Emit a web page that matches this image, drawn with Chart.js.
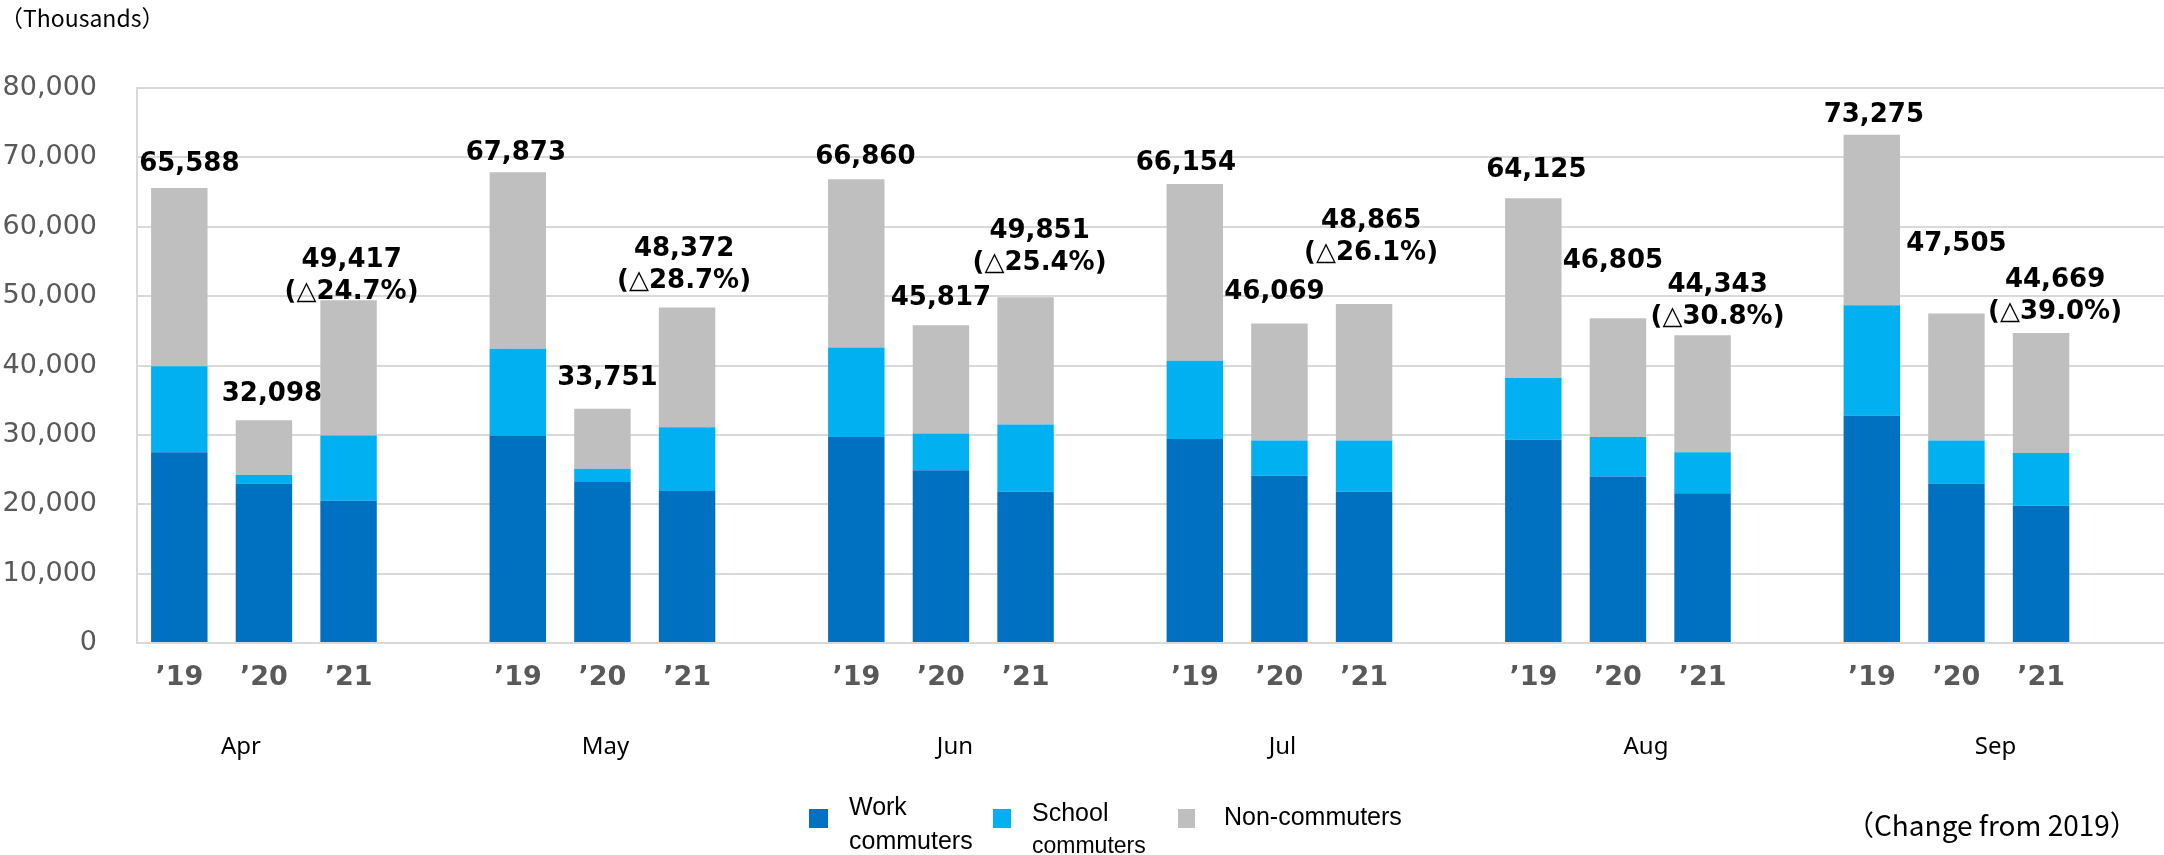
<!DOCTYPE html>
<html>
<head>
<meta charset="utf-8">
<script src="https://cdn.jsdelivr.net/npm/chart.js@4.4.0/dist/chart.umd.min.js"></script>
<style>
  html, body { margin: 0; padding: 0; background: #fff; overflow: hidden; }
  #wrap { position: relative; width: 2164px; height: 855px; overflow: hidden; }
  canvas { display: block; }
</style>
</head>
<body>
<div id="wrap"><canvas id="c" width="2168" height="855"></canvas></div>
<script>
// ---- data (thousands of passengers) ----
const months = ['Apr', 'May', 'Jun', 'Jul', 'Aug', 'Sep'];
const yearTicks = ['\u201919', '\u201920', '\u201921'];
// order per month: '19, '20, '21
const workCommuters   = [27500, 23000, 20500,  29900, 23200, 21900,  29700, 24900, 21800,  29400, 24100, 21800,  29300, 24000, 21600,  32800, 23000, 19800];
const schoolCommuters = [12400,  1200,  9400,  12500,  1900,  9200,  12900,  5300,  9700,  11300,  5100,  7400,   8900,  5700,  5900,  15900,  6200,  7600];
const nonCommuters    = [25688,  7898, 19517,  25473,  8651, 17272,  24260, 15617, 18351,  25454, 16869, 19665,  25925, 17105, 16843,  24575, 18305, 17269];
const totals          = [65588, 32098, 49417,  67873, 33751, 48372,  66860, 45817, 49851,  66154, 46069, 48865,  64125, 46805, 44343,  73275, 47505, 44669];
const changeFrom2019  = ['\u25B324.7%', '\u25B328.7%', '\u25B325.4%', '\u25B326.1%', '\u25B330.8%', '\u25B339.0%'];
const yTicks = [0, 10000, 20000, 30000, 40000, 50000, 60000, 70000, 80000];

// ---- layout tweaks (label placement relative to bar centre / bar top) ----
const labelOffsets = [
  [10, 24], [8, 26], [3, 8],
  [-2, 19], [5, 31], [-3, 26],
  [9, 22], [0, 27], [14, 34],
  [-9, 21], [-5, 31], [7, 51],
  [3, 28], [-5, 57], [15, 18],
  [2, 19], [0, 69], [14, 21]
];
const monthOffsets = [-23, 3, 14, 3, 28, 39];

// ---- build slot-based arrays (3 bars + 1 gap per month) ----
const slotLabels = [];
months.forEach(() => { yearTicks.forEach(t => slotLabels.push(t)); slotLabels.push(''); });
function toSlots(arr) {
  const out = [];
  months.forEach((_, m) => { for (let j = 0; j < 3; j++) out.push(arr[m * 3 + j]); out.push(null); });
  return out;
}
const fmt = v => v.toLocaleString('en-US');

const annotations = {
  id: 'annotations',
  afterDatasetsDraw(chart) {
    const { ctx, scales: { x, y } } = chart;
    ctx.save();
    // data labels
    ctx.fillStyle = '#000';
    ctx.font = 'bold 26px "DejaVu Sans"';
    ctx.textAlign = 'center';
    ctx.textBaseline = 'middle';
    totals.forEach((t, i) => {
      const m = Math.floor(i / 3), j = i % 3;
      const px = x.getPixelForValue(m * 4 + j) + labelOffsets[i][0];
      const top = y.getPixelForValue(t);
      const lines = j === 2 ? [fmt(t), '(' + changeFrom2019[m] + ')'] : [fmt(t)];
      const base = top - labelOffsets[i][1];
      lines.forEach((s, k) => ctx.fillText(s, px, base - (lines.length - 1 - k) * 32));
    });
    // month labels
    ctx.font = '24px "Noto Sans"';
    months.forEach((mo, m) => {
      ctx.fillText(mo, x.getPixelForValue(m * 4 + 1) + monthOffsets[m], 747);
    });
    // unit label
    ctx.textAlign = 'left';
    ctx.font = '23px "Noto Sans CJK JP"';
    ctx.fillText('\uFF08Thousands\uFF09', 0, 18);
    // change note
    ctx.font = '28px "Noto Sans CJK JP"';
    ctx.fillText('\uFF08Change from 2019\uFF09', 1846, 825);
    // legend
    const legend = [
      { color: '#0070c0', box: [809, 809, 19, 19], lines: [['Work', 849, 808, 25], ['commuters', 849, 842, 25]] },
      { color: '#00b0f0', box: [993, 809, 18, 19], lines: [['School', 1032, 814, 25], ['commuters', 1032, 847, 23]] },
      { color: '#bfbfbf', box: [1178, 809, 17, 19], lines: [['Non-commuters', 1224, 818, 25]] }
    ];
    legend.forEach(item => {
      ctx.fillStyle = item.color;
      ctx.fillRect(...item.box);
      ctx.fillStyle = '#000';
      item.lines.forEach(([s, lx, ly, fs]) => {
        ctx.font = fs + 'px "Liberation Sans"';
        ctx.fillText(s, lx, ly);
      });
    });
    ctx.restore();
  }
};

new Chart(document.getElementById('c'), {
  type: 'bar',
  data: {
    labels: slotLabels,
    datasets: [
      { label: 'Work commuters', data: toSlots(workCommuters), backgroundColor: '#0070c0' },
      { label: 'School commuters', data: toSlots(schoolCommuters), backgroundColor: '#00b0f0' },
      { label: 'Non-commuters', data: toSlots(nonCommuters), backgroundColor: '#bfbfbf' }
    ]
  },
  options: {
    responsive: false,
    animation: false,
    layout: { padding: { top: 88, left: 0, right: 0, bottom: 0 } },
    datasets: { bar: { categoryPercentage: 1, barPercentage: 0.667, borderWidth: 0 } },
    plugins: { legend: { display: false }, tooltip: { enabled: false } },
    scales: {
      x: {
        stacked: true,
        grid: { display: false, drawTicks: false },
        border: { display: true, color: '#d9d9d9', width: 2 },
        ticks: {
          autoSkip: false, maxRotation: 0, padding: 19,
          color: '#595959',
          font: { family: 'DejaVu Sans', size: 27, weight: 'bold' }
        },
        afterFit: s => { s.height = 212; }
      },
      y: {
        stacked: true,
        min: 0, max: 80000,
        afterBuildTicks: s => { s.ticks = yTicks.map(v => ({ value: v })); },
        ticks: {
          padding: 40,
          color: '#595959',
          font: { family: 'DejaVu Sans', size: 27 },
          callback: v => fmt(v)
        },
        grid: { color: '#d9d9d9', lineWidth: 2, drawTicks: false },
        border: { display: true, color: '#d9d9d9', width: 2 },
        afterFit: s => { s.width = 137; }
      }
    }
  },
  plugins: [annotations]
});
</script>
</body>
</html>
